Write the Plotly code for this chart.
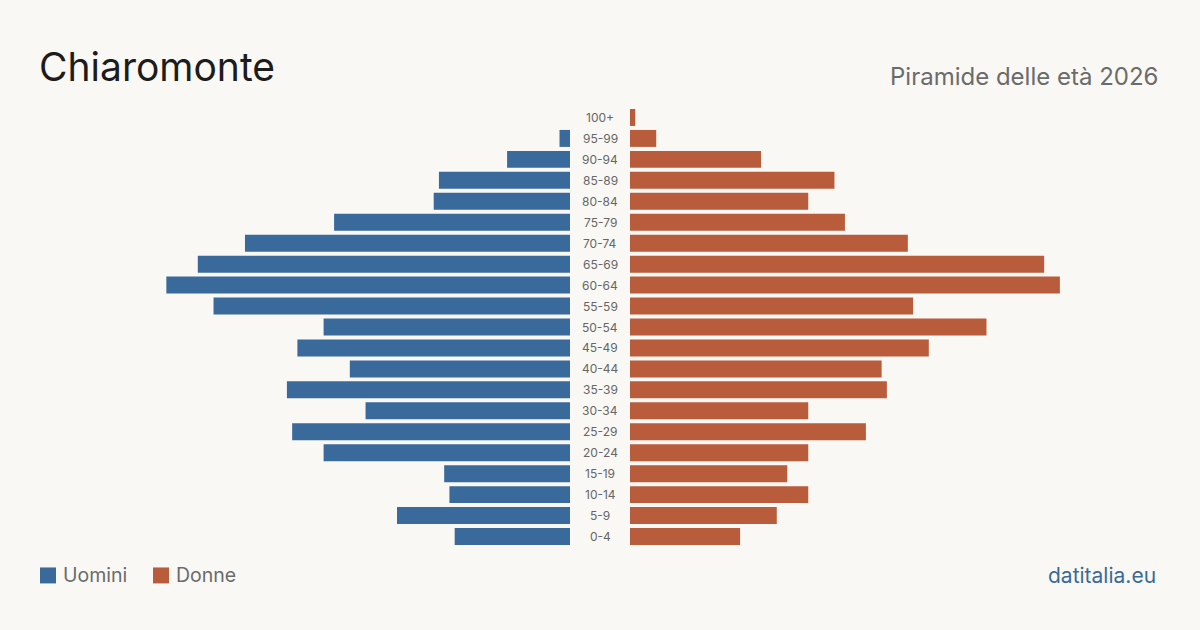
import plotly.graph_objects as go

age_groups = ["0-4", "5-9", "10-14", "15-19", "20-24", "25-29", "30-34", "35-39",
              "40-44", "45-49", "50-54", "55-59", "60-64", "65-69", "70-74", "75-79",
              "80-84", "85-89", "90-94", "95-99", "100+"]
men = [22, 33, 23, 24, 47, 53, 39, 54, 42, 52, 47, 68, 77, 71, 62, 45, 26, 25, 12, 2, 0]
women = [21, 28, 34, 30, 34, 45, 34, 49, 48, 57, 68, 54, 82, 79, 53, 41, 34, 39, 25, 5, 1]

BLUE = "#3a6a9b"
ORANGE = "#b95c3c"
BG = "#f9f8f4"
FONT = "Inter, 'Noto Sans', sans-serif"

R = 101.1
W = 1200.0
H = 630.0
T = 106.5
B = 82.5
PH = H - T - B


def py(ypx):
    return (H - B - ypx) / PH


fig = go.Figure()
fig.add_trace(go.Bar(y=age_groups, x=men, orientation="h", marker=dict(color=BLUE, line=dict(width=0)),
                     xaxis="x", yaxis="y", name="Uomini", hoverinfo="x+y"))
fig.add_trace(go.Bar(y=age_groups, x=women, orientation="h", marker=dict(color=ORANGE, line=dict(width=0)),
                     xaxis="x2", yaxis="y", name="Donne", hoverinfo="x+y"))

annotations = []
for ag in age_groups:
    annotations.append(dict(x=0.5, xref="paper", y=ag, yref="y", text=ag,
                            showarrow=False, xanchor="center", yanchor="middle",
                            font=dict(family=FONT, size=12, color="#666666")))

annotations += [
    dict(x=37 / W, y=py(66), xref="paper", yref="paper", text="Chiaromonte",
         showarrow=False, xanchor="left", yanchor="middle",
         font=dict(family=FONT, size=39, color="#1c1c1c")),
    dict(x=1160 / W, y=py(76), xref="paper", yref="paper", text="Piramide delle età 2026",
         showarrow=False, xanchor="right", yanchor="middle",
         font=dict(family=FONT, size=24, color="#6b6b6b")),
    dict(x=61 / W, y=py(576), xref="paper", yref="paper", text="Uomini",
         showarrow=False, xanchor="left", yanchor="middle",
         font=dict(family=FONT, size=19.5, color="#6b6b6b")),
    dict(x=174 / W, y=py(576), xref="paper", yref="paper", text="Donne",
         showarrow=False, xanchor="left", yanchor="middle",
         font=dict(family=FONT, size=19.5, color="#6b6b6b")),
    dict(x=1158 / W, y=py(576), xref="paper", yref="paper", text="datitalia.eu",
         showarrow=False, xanchor="right", yanchor="middle",
         font=dict(family=FONT, size=21, color=BLUE)),
]

shapes = [
    dict(type="rect", xref="paper", yref="paper", x0=40 / W, x1=56 / W,
         y0=py(584), y1=py(568), fillcolor=BLUE, line=dict(width=0)),
    dict(type="rect", xref="paper", yref="paper", x0=153 / W, x1=169 / W,
         y0=py(584), y1=py(568), fillcolor=ORANGE, line=dict(width=0)),
]

fig.update_layout(
    width=1200, height=630,
    margin=dict(l=0, r=0, t=T, b=B),
    paper_bgcolor=BG, plot_bgcolor=BG,
    showlegend=False,
    bargap=0.19,
    xaxis=dict(domain=[40 / W, 570 / W], range=[R, 0], visible=False, fixedrange=True),
    xaxis2=dict(domain=[630 / W, 1160 / W], range=[0, R], visible=False, fixedrange=True),
    yaxis=dict(categoryorder="array", categoryarray=age_groups, visible=False,
               range=[-0.5, len(age_groups) - 0.5], fixedrange=True),
    annotations=annotations,
    shapes=shapes,
)

fig.write_html("out.html")
